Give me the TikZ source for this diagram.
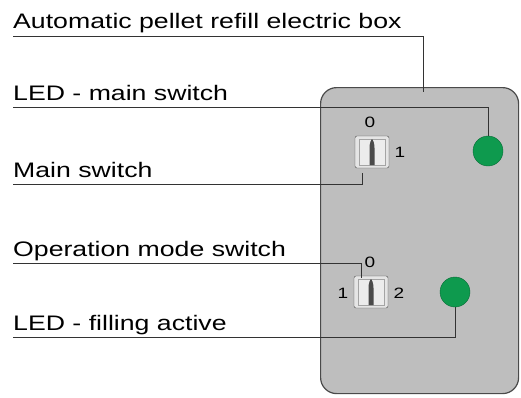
\documentclass[tikz,border=0pt]{standalone}
\usepackage{fontspec}
\setmainfont{Liberation Sans}
\newfontfamily\lblfont[FakeStretch=1.27]{Liberation Sans}
\usepackage{xcolor}
\usetikzlibrary{calc}
\definecolor{boxgray}{HTML}{BEBEBE}
\definecolor{boxedge}{HTML}{4A4A4A}
\definecolor{ledgreen}{HTML}{0E9A4E}
\definecolor{leadline}{HTML}{333333}

\begin{document}
\begin{tikzpicture}[x=1pt, y=-1pt,
  lbl/.style={anchor=base west, inner sep=0pt,
    font=\lblfont\fontsize{21}{24}\selectfont},
  lead/.style={draw=leadline, line width=1pt},
  led/.style={circle, fill=ledgreen, draw=ledgreen!70!black,
    minimum size=30pt, inner sep=0pt},
  toggle/.style={draw=boxedge, fill=gray!20, rounded corners=2pt,
    minimum width=34pt, minimum height=32pt, inner sep=0pt},
  digit/.style={inner sep=0pt, font=\lblfont\fontsize{15}{17}\selectfont}
]
  \useasboundingbox (0,0) rectangle (521,397);

  % Electric box
  \node[draw=boxedge, fill=boxgray, line width=1.2pt, rounded corners=16pt,
    minimum width=198pt, minimum height=306pt, inner sep=0pt,
    anchor=north west] (box) at (320,87) {};

  % Switches
  \node[toggle] (sw1) at (372,152) {};
  \node[toggle] (sw2) at (371,292) {};
  \foreach \s in {sw1, sw2} {
    \draw[boxedge!50, fill=white!85!gray]
      ($(\s.south west)+(4,-3)$) rectangle ($(\s.north east)+(-4,3)$);
    \begin{scope}[shift={(\s.center)}]
      \fill[boxedge] (-2.5,13) -- (-2.5,-4)
        .. controls (-2.5,-9) and (-1,-12) .. (0,-13)
        .. controls (1,-12) and (2.5,-9) .. (2.5,-4) -- (2.5,13) -- cycle;
    \end{scope}
  }
  \node[digit] (sw1zero) at (370,122) {0};
  \node[digit] (sw1one) at (400,152) {1};
  \node[digit] (sw2zero) at (370,262) {0};
  \node[digit] (sw2one) at (343,293) {1};
  \node[digit] (sw2two) at (399,293) {2};

  % LEDs
  \node[led] (led1) at (488,151) {};
  \node[led] (led2) at (455,292) {};

  % Labels
  \node[lbl] (lbox) at (13,28) {Automatic pellet refill electric box};
  \node[lbl] (lledmain) at (13,100) {LED - main switch};
  \node[lbl] (lmain) at (13,177) {Main switch};
  \node[lbl] (lmode) at (13,256) {Operation mode switch};
  \node[lbl] (lledfill) at (13,330) {LED - filling active};

  % Leader lines
  \draw[lead] ([yshift=-8pt]lbox.base west) -| ($(box.north)+(4,5)$);
  \draw[lead] ([yshift=-7pt]lledmain.base west) -| (led1.north);
  \draw[lead] ([yshift=-7pt]lmain.base west) -| ($(sw1.south west)+(8,5)$);
  \draw[lead] ([yshift=-7pt]lmode.base west) -| ($(sw2.north west)+(8,2)$);
  \draw[lead] ([yshift=-7pt]lledfill.base west) -| (led2.south);
\end{tikzpicture}
\end{document}
